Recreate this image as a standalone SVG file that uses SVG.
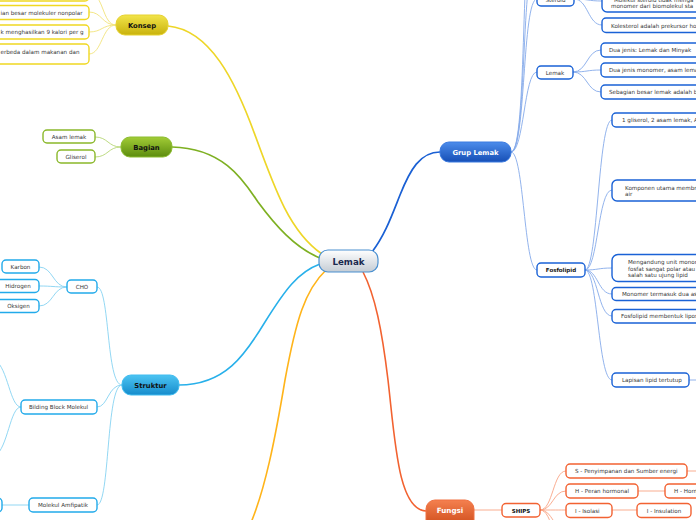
<svg xmlns="http://www.w3.org/2000/svg" width="696" height="520" viewBox="0 0 696 520">
<defs>
<linearGradient id="gC" x1="0" y1="0" x2="0" y2="1"><stop offset="0" stop-color="#ffffff"/><stop offset="1" stop-color="#c4ccd4"/></linearGradient>
<linearGradient id="gY" x1="0" y1="0" x2="0" y2="1"><stop offset="0" stop-color="#f2e44a"/><stop offset="1" stop-color="#c9b20c"/></linearGradient>
<linearGradient id="gG" x1="0" y1="0" x2="0" y2="1"><stop offset="0" stop-color="#a2cc36"/><stop offset="1" stop-color="#5c8c0e"/></linearGradient>
<linearGradient id="gL" x1="0" y1="0" x2="0" y2="1"><stop offset="0" stop-color="#4cc4f2"/><stop offset="1" stop-color="#168ccc"/></linearGradient>
<linearGradient id="gD" x1="0" y1="0" x2="0" y2="1"><stop offset="0" stop-color="#4c8ceb"/><stop offset="1" stop-color="#164fb6"/></linearGradient>
<linearGradient id="gR" x1="0" y1="0" x2="0" y2="1"><stop offset="0" stop-color="#f4804f"/><stop offset="1" stop-color="#c94513"/></linearGradient>
<style>
text{font-family:"DejaVu Sans","Verdana",sans-serif;}
.t{font-size:5.6px;fill:#363636;}
.tb{font-size:5.5px;font-weight:bold;fill:#111;}
.m{font-size:6.8px;font-weight:bold;}
.c{text-anchor:middle;}
.ky{fill:#fff;stroke:#f0d822;stroke-width:1.4;}
.kg{fill:#fff;stroke:#8ab82a;stroke-width:1.4;}
.kl{fill:#fff;stroke:#22aaea;stroke-width:1.4;}
.kd{fill:#fff;stroke:#1a62d6;stroke-width:1.4;}
.kr{fill:#fff;stroke:#f26232;stroke-width:1.4;}
.cn path{fill:none;}
.ly{stroke:#f2e37a;stroke-width:0.9;}
.lg{stroke:#b6d674;stroke-width:0.9;}
.ll{stroke:#86d2f2;stroke-width:0.9;}
.ld{stroke:#86aaea;stroke-width:0.9;}
.lr{stroke:#f8a484;stroke-width:0.9;}
</style>
</defs>
<rect width="696" height="520" fill="#fff"/>

<g id="connectors" class="cn">
<path d="M322 254 C290 232,275 190,255 135 C235 80,210 30,168 26" stroke="#eed628" stroke-width="1.7"/>
<path d="M320 258 C295 248,275 225,258 202 C245 183,225 148,172 147" stroke="#7eb022" stroke-width="1.7"/>
<path d="M320 264 C298 272,285 290,265 322 C245 355,225 385,179 385" stroke="#28b0ea" stroke-width="1.6"/>
<path d="M372 252 C385 235,392 215,400 195 C410 170,420 152,440 152" stroke="#1a60d4" stroke-width="1.7"/>
<path d="M326 270 C305 290,296 320,285 380 C275 440,265 490,250 525" stroke="#ffb41a" stroke-width="1.6"/>
<path d="M363 272 C375 295,382 330,388 380 C395 440,398 510,426 511" stroke="#f26230" stroke-width="1.6"/>

<path class="ly" d="M116 25 C102 25,104 -7,89 -7"/>
<path class="ly" d="M116 25 C102 25,102 12,89 12"/>
<path class="ly" d="M116 25 C102 25,102 32,89 32"/>
<path class="ly" d="M116 25 C102 25,102 54,89 54"/>

<path class="lg" d="M121 147 C108 147,108 137,95 137"/>
<path class="lg" d="M121 147 C108 147,108 157,95 157"/>

<path class="ll" d="M122 385 C106 385,110 287,97 287"/>
<path class="ll" d="M122 385 C108 385,108 407,97 407"/>
<path class="ll" d="M122 385 C106 385,110 505,97 505"/>
<path class="ll" d="M67 287 C53 287,53 267,39 267"/>
<path class="ll" d="M67 287 C53 287,53 286,39 286"/>
<path class="ll" d="M67 287 C53 287,53 306,39 306"/>
<path class="ll" d="M21 407 C10 407,8 368,-5 360"/>
<path class="ll" d="M21 407 C10 407,8 448,-5 456"/>
<path class="ll" d="M29 505 L2 505"/>

<path class="ld" d="M511 152 C526 152,522 -1,537 -1"/>
<path class="ld" d="M511 152 C527 152,521 -40,536 -40"/>
<path class="ld" d="M511 152 C528 152,520 -90,535 -90"/>
<path class="ld" d="M511 152 C524 152,524 72,537 72"/>
<path class="ld" d="M511 152 C524 152,524 270,537 270"/>
<path class="ld" d="M574 -1 C588 -1,588 1,602 1"/>
<path class="ld" d="M574 -1 C588 -1,588 25,602 25"/>
<path class="ld" d="M573 72 C587 72,587 50,601 50"/>
<path class="ld" d="M573 72 C587 72,587 70,601 70"/>
<path class="ld" d="M573 72 C587 72,587 92,601 92"/>
<path class="ld" d="M585 270 C598 270,598 120,612 120"/>
<path class="ld" d="M585 270 C598 270,598 190,612 190"/>
<path class="ld" d="M585 270 C598 270,598 268,612 268"/>
<path class="ld" d="M585 270 C598 270,598 294,612 294"/>
<path class="ld" d="M585 270 C598 270,598 316,612 316"/>
<path class="ld" d="M585 270 C598 270,598 380,612 380"/>
<path class="ld" d="M689 380 L700 380"/>

<path class="lr" d="M474 510 L502 510"/>
<path class="lr" d="M540 510 C553 510,553 471,566 471"/>
<path class="lr" d="M540 510 C553 510,553 491,566 491"/>
<path class="lr" d="M540 510 C553 510,553 510,566 510"/>
<path class="lr" d="M540 510 C553 510,553 530,566 530"/>
<path class="lr" d="M540 510 C553 510,553 550,566 550"/>
<path class="lr" d="M687 471 L700 471"/>
<path class="lr" d="M638 491 L665 491"/>
<path class="lr" d="M612 510 L637 510"/>
</g>

<g id="lemak">
<rect x="319" y="250" width="59" height="22" rx="9" fill="url(#gC)" stroke="#4a90d0" stroke-width="1.2"/>
<text x="348.5" y="264.5" class="c" font-size="8.7" font-weight="bold" fill="#1a2a50">Lemak</text>
</g>

<g id="konsep">
<rect x="116" y="15" width="52" height="20" rx="9" fill="url(#gY)" stroke="#e6d230" stroke-width="1"/>
<text x="142" y="27.5" class="m c" fill="#111">Konsep</text>
</g>
<g id="konsep-1"><rect class="ky" x="-70" y="-14" width="159" height="15" rx="4"/></g>
<g id="konsep-2"><rect class="ky" x="-70" y="5.5" width="159" height="14" rx="4"/><text class="t" x="0.5" y="14.6">ian besar molekuler nonpolar</text></g>
<g id="konsep-3"><rect class="ky" x="-70" y="25" width="159" height="14" rx="4"/><text class="t" x="0.5" y="34.2">k menghasilkan 9 kalori per g</text></g>
<g id="konsep-4"><rect class="ky" x="-70" y="44" width="159" height="20" rx="4"/><text class="t" x="0.5" y="54">erbeda dalam makanan dan</text></g>

<g id="bagian">
<rect x="121" y="137" width="51" height="20" rx="9" fill="url(#gG)" stroke="#8cbc30" stroke-width="1"/>
<text x="146.5" y="149.5" class="m c" fill="#111">Bagian</text>
</g>
<g id="asam-lemak"><rect class="kg" x="43" y="130" width="52" height="13" rx="4"/><text class="t c" x="69" y="138.5">Asam lemak</text></g>
<g id="gliserol"><rect class="kg" x="57" y="150" width="38" height="13" rx="4"/><text class="t c" x="76" y="158.5">Gliserol</text></g>

<g id="struktur">
<rect x="122" y="375" width="57" height="20" rx="9" fill="url(#gL)" stroke="#40bcf0" stroke-width="1"/>
<text x="150.5" y="387.5" class="m c" fill="#111">Struktur</text>
</g>
<g id="cho"><rect class="kl" x="67" y="280" width="30" height="13" rx="4"/><text class="t c" x="82" y="288.6">CHO</text></g>
<g id="karbon"><rect class="kl" x="2" y="260" width="37" height="13" rx="4"/><text class="t c" x="20.5" y="268.6">Karbon</text></g>
<g id="hidrogen"><rect class="kl" x="-4" y="279.5" width="43" height="13" rx="4"/><text class="t c" x="18" y="288.2">Hidrogen</text></g>
<g id="oksigen"><rect class="kl" x="-4" y="299.5" width="43" height="13" rx="4"/><text class="t c" x="18.5" y="308.2">Oksigen</text></g>
<g id="bilding"><rect class="kl" x="21" y="400" width="76" height="14" rx="4"/><text class="t c" x="58.5" y="409.2">Bilding Block Molekul</text></g>
<g id="amfipatik"><rect class="kl" x="29" y="498" width="68" height="14" rx="4"/><text class="t c" x="63" y="507.2">Molekul Amfipatik</text></g>
<g id="amfipatik-1"><rect class="kl" x="-60" y="498" width="62" height="14" rx="4"/></g>

<g id="grup-lemak">
<rect x="440" y="142" width="71" height="20" rx="9" fill="url(#gD)" stroke="#3a7ae0" stroke-width="1"/>
<text x="475.5" y="154.5" class="m c" fill="#fff">Grup Lemak</text>
</g>
<g id="steroid"><rect class="kd" x="537" y="-8" width="37" height="14" rx="4"/><text class="t c" x="555.5" y="2">Steroid</text></g>
<g id="steroid-1"><rect class="kd" x="602" y="-12" width="120" height="24" rx="5"/><text class="t" x="614" y="1.5">Molekul steroid tidak menga</text><text class="t" x="611" y="8">monomer dari biomolekul sta</text></g>
<g id="steroid-2"><rect class="kd" x="602" y="18" width="120" height="14.5" rx="4"/><text class="t" x="611" y="27.5">Kolesterol adalah prekursor ho</text></g>
<g id="lemak-sub"><rect class="kd" x="537" y="66" width="36" height="13" rx="4"/><text class="t c" x="555" y="74.6">Lemak</text></g>
<g id="lemak-1"><rect class="kd" x="601" y="43" width="120" height="14" rx="4"/><text class="t" x="609" y="52.2">Dua jenis: Lemak dan Minyak</text></g>
<g id="lemak-2"><rect class="kd" x="601" y="63" width="120" height="14" rx="4"/><text class="t" x="609" y="72.2">Dua jenis monomer, asam lema</text></g>
<g id="lemak-3"><rect class="kd" x="601" y="85" width="120" height="14" rx="4"/><text class="t" x="609" y="94.2">Sebagian besar lemak adalah b</text></g>
<g id="fosfolipid"><rect class="kd" x="537" y="263" width="48" height="14" rx="4"/><text class="tb c" x="561" y="272.2">Fosfolipid</text></g>
<g id="fos-1"><rect class="kd" x="612" y="113" width="110" height="14" rx="4"/><text class="t" x="622" y="122.2">1 gliserol, 2 asam lemak, A</text></g>
<g id="fos-2"><rect class="kd" x="612" y="180" width="110" height="21" rx="5"/><text class="t" x="625" y="189.5">Komponen utama membra</text><text class="t" x="625" y="196">air</text></g>
<g id="fos-3"><rect class="kd" x="612" y="254.5" width="110" height="27" rx="6"/><text class="t" x="628" y="264">Mengandung unit monom</text><text class="t" x="628" y="270.5">fosfat sangat polar atau</text><text class="t" x="628" y="277">salah satu ujung lipid</text></g>
<g id="fos-4"><rect class="kd" x="612" y="287.5" width="110" height="13" rx="4"/><text class="t" x="622" y="296">Monomer termasuk dua as</text></g>
<g id="fos-5"><rect class="kd" x="612" y="309.5" width="110" height="13.5" rx="4"/><text class="t" x="621" y="318.2">Fosfolipid membentuk lipos</text></g>
<g id="fos-6"><rect class="kd" x="612" y="373" width="77" height="14" rx="4"/><text class="t" x="622" y="382.2">Lapisan lipid tertutup</text></g>

<g id="fungsi">
<rect x="426" y="500" width="48" height="30" rx="9" fill="url(#gR)" stroke="#f07040" stroke-width="1"/>
<text x="450" y="513" class="c" font-size="7.2" font-weight="bold" fill="#fff">Fungsi</text>
</g>
<g id="ships"><rect class="kr" x="502" y="503.5" width="38" height="13.5" rx="4"/><text class="tb c" x="521" y="512.5">SHIPS</text></g>
<g id="s"><rect class="kr" x="566" y="464" width="121" height="14" rx="4"/><text class="t" x="575" y="473.2">S - Penyimpanan dan Sumber energi</text></g>
<g id="h"><rect class="kr" x="566" y="484" width="72" height="14" rx="4"/><text class="t" x="575" y="493.2">H - Peran hormonal</text></g>
<g id="h-1"><rect class="kr" x="665" y="484" width="70" height="14" rx="4"/><text class="t" x="674" y="493.2">H - Horm</text></g>
<g id="i"><rect class="kr" x="566" y="503.5" width="46" height="14" rx="4"/><text class="t" x="575" y="512.7">I - Isolasi</text></g>
<g id="i-1"><rect class="kr" x="637" y="503.5" width="54" height="14" rx="4"/><text class="t c" x="664" y="512.7">I - Insulation</text></g>
</svg>
